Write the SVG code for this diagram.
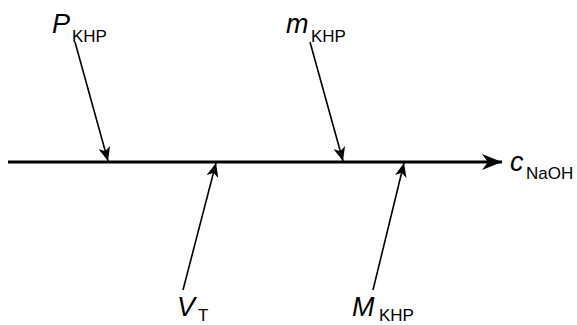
<svg xmlns="http://www.w3.org/2000/svg" width="577" height="325" viewBox="0 0 577 325">
<style>
.main{stroke:#000;stroke-width:3;fill:none}
.in{stroke:#000;stroke-width:1.6;fill:none}
.v{font-family:"Liberation Sans",Arial,sans-serif;font-style:italic;font-size:27px;fill:#000}
.s{font-family:"Liberation Sans",Arial,sans-serif;font-size:17px;fill:#000}
</style>
<defs>
<marker id="ah" markerWidth="16" markerHeight="12" refX="14" refY="6" orient="auto" markerUnits="userSpaceOnUse">
<path d="M0,0 L14,6 L0,12 L4,6 Z" fill="#000"/>
</marker>
<marker id="ah2" markerWidth="22" markerHeight="16" refX="20" refY="8" orient="auto" markerUnits="userSpaceOnUse">
<path d="M0,0 L20,8 L0,16 L6,8 Z" fill="#000"/>
</marker>
</defs>
<g id="connectors">
<line class="main" x1="8" y1="162" x2="502" y2="162" marker-end="url(#ah2)"/>
<line class="in" x1="75" y1="42" x2="108" y2="161" marker-end="url(#ah)"/>
<line class="in" x1="310" y1="42" x2="343" y2="161" marker-end="url(#ah)"/>
<line class="in" x1="183" y1="290" x2="216" y2="163" marker-end="url(#ah)"/>
<line class="in" x1="373" y1="290" x2="404" y2="163" marker-end="url(#ah)"/>
</g>
<g id="P_KHP"><text class="v" x="52" y="33">P</text><text class="s" x="72" y="42">KHP</text></g>
<g id="m_KHP"><text class="v" x="286" y="33">m</text><text class="s" x="311" y="42">KHP</text></g>
<g id="c_NaOH"><text class="v" x="510" y="171">c</text><text class="s" x="526" y="179">NaOH</text></g>
<g id="V_T"><text class="v" x="177" y="316">V</text><text class="s" x="198" y="321">T</text></g>
<g id="M_KHP"><text class="v" x="352" y="316">M</text><text class="s" x="379" y="321">KHP</text></g>
</svg>
